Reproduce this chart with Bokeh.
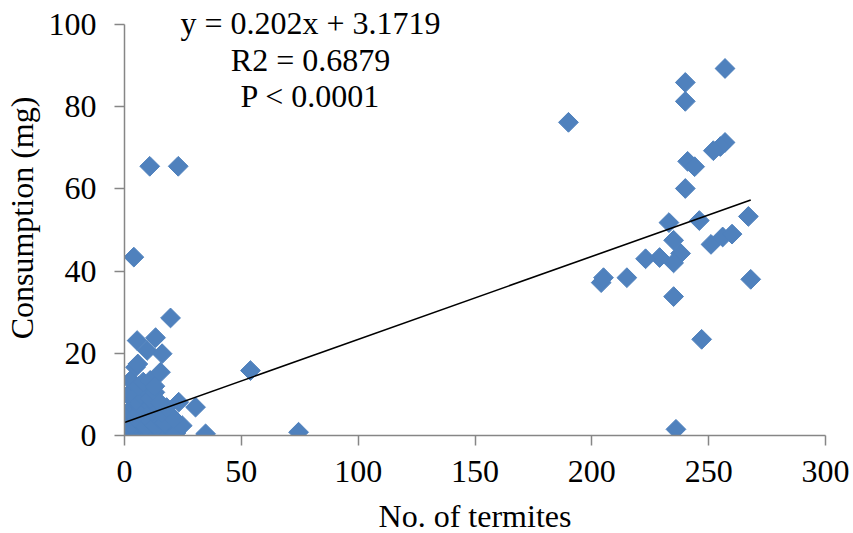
import math
from bokeh.plotting import figure
from bokeh.models import Label, Range1d, FixedTicker
from bokeh.embed import file_html
from bokeh.resources import INLINE

# Number of termites per unit and the paper consumption measured (mg)
termites = [
    0, 1, 2, 3, 4, 5, 6, 7, 8, 9, 10, 11, 12, 14, 15, 17, 19, 21, 22, 24.7, 34.7, 74.5,
    1, 3, 5, 7, 9, 11, 13, 15, 17, 20.4, 21,
    2, 4, 6, 8, 10, 12, 14, 16, 18, 23.2, 30.4,
    3, 5, 7, 9, 11, 13, 15, 2.6, 2.6, 6, 8, 11, 13,
    15.4, 4.7, 5.7, 9.7, 16.1, 5.4, 13.3, 19.7, 4, 10.8, 23, 53.9,
    190, 257, 240, 240, 241, 244, 257, 255, 252, 240, 233, 246, 267, 235, 238,
    235, 229, 223, 215, 204, 205, 251, 256, 260, 268, 235, 247, 236,
]
consumption = [
    0.5, 1.2, 0.3, 0.8, 0.2, 1.2, 0.5, 0.3, 1.0, 0.4, 0.8, 0.2, 0.6, 0.3, 1.0, 0.5, 0.3, 0.7, 0.6, 2.4, 0.4, 0.8,
    3.0, 2.5, 4.0, 3.0, 2.0, 3.5, 2.5, 4.0, 3.0, 4.5, 4.1,
    6.0, 7.0, 5.5, 6.5, 8.0, 6.0, 7.0, 5.5, 6.8, 8.1, 6.9,
    9.0, 8.5, 10.0, 11.0, 9.0, 10.5, 8.0, 10.5, 13.4, 12.0, 13.0, 13.4, 12.0,
    15.4, 16.6, 17.4, 20.7, 19.9, 23.1, 23.8, 28.6, 43.4, 65.5, 65.5, 15.8,
    76.2, 89.3, 85.9, 81.3, 66.7, 65.4, 71.3, 70.3, 69.3, 60.1, 51.8, 52.3, 53.3, 47.5, 44.3,
    42.0, 43.3, 43.0, 38.4, 37.2, 38.4, 46.5, 48.3, 49.0, 38.0, 33.8, 23.4, 1.5,
]

# Linear fit reported for the data
slope = 0.202
intercept = 3.1719
fit_lines = ["y = 0.202x + 3.1719", "R2 = 0.6879", "P < 0.0001"]
fit_line_y = [100.3, 91.3, 82.5]

x_ticks = [0, 50, 100, 150, 200, 250, 300]
y_ticks = [0, 20, 40, 60, 80, 100]

FONT = "Liberation Serif"
FONT_SIZE = "32px"
AXIS_GREY = "#868686"
BLUE = "#4F81BD"

# The frame reaches the top edge so the fit statistics have room above 100;
# the y axis itself is bounded to 0..100.
p = figure(
    frame_width=701, frame_height=435,
    min_border_left=124, min_border_right=28, min_border_top=0, min_border_bottom=98,
    x_range=Range1d(0, 300), y_range=Range1d(0, 105.84),
    output_backend="svg", toolbar_location=None,
    x_axis_label="No. of termites", y_axis_label="Consumption (mg)",
)
p.outline_line_color = None
p.xgrid.grid_line_color = None
p.ygrid.grid_line_color = None
p.yaxis.bounds = (0, 100)

for ax in (p.xaxis[0], p.yaxis[0]):
    ax.axis_line_color = AXIS_GREY
    ax.axis_line_width = 1.5
    ax.major_tick_line_color = AXIS_GREY
    ax.major_tick_line_width = 1.5
    ax.major_tick_in = 0
    ax.major_tick_out = 10
    ax.minor_tick_line_color = None
    ax.major_label_text_font = FONT
    ax.major_label_text_font_size = FONT_SIZE
    ax.major_label_text_color = "black"
    ax.axis_label_text_font = FONT
    ax.axis_label_text_font_size = FONT_SIZE
    ax.axis_label_text_font_style = "normal"
    ax.axis_label_text_color = "black"

p.xaxis.ticker = FixedTicker(ticks=x_ticks)
p.yaxis.ticker = FixedTicker(ticks=y_ticks)
p.xaxis.major_label_standoff = 15
p.yaxis.major_label_standoff = 18
p.xaxis.axis_label_standoff = 13
p.yaxis.axis_label_standoff = 6

p.scatter(termites, consumption, marker="square", size=14, angle=math.pi / 4,
          fill_color=BLUE, line_color=BLUE, line_width=1)

# Trend line across the observed range, drawn over the points
x0, x1 = min(termites), max(termites)
p.line([x0, x1], [slope * x0 + intercept, slope * x1 + intercept],
       line_color="black", line_width=1.6)

for txt, ty in zip(fit_lines, fit_line_y):
    p.add_layout(Label(
        x=79.6, y=ty, text=txt, text_align="center", text_baseline="middle",
        text_font=FONT, text_font_size=FONT_SIZE, text_color="black",
    ))

open("out.html", "w").write(file_html(p, INLINE))
